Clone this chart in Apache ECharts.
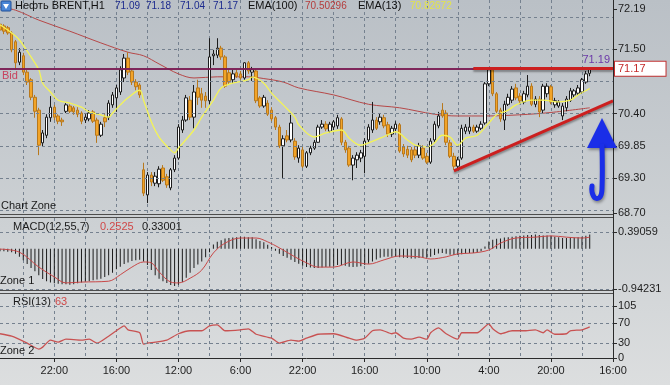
<!DOCTYPE html>
<html><head><meta charset="utf-8">
<script src="https://cdn.jsdelivr.net/npm/echarts@6/dist/echarts.min.js"></script>
<style>html,body{margin:0;padding:0;background:#cfd2d5}#c{width:670px;height:385px}</style>
</head><body><div id="c"></div>
<script>
// ---------- data ----------
const timeTicks = [[14,'22:00'],[30,'16:00'],[46,'12:00'],[62,'6:00'],[78,'22:00'],[94,'16:00'],[110,'10:00'],[126,'4:00'],[142,'20:00'],[158,'16:00']];
const slotCount = 159;

const openP = [71.93,71.90,71.87,71.78,71.63,71.28,71.39,71.11,70.98,70.68,
70.46,69.90,70.03,70.33,70.51,70.36,70.29,70.44,70.53,70.50,
70.46,70.41,70.29,70.31,70.43,70.29,70.03,70.33,70.34,70.55,
70.67,70.77,71.01,71.35,71.13,70.94,70.89,69.44,69.01,69.35,
69.21,69.20,69.47,69.32,69.13,69.44,69.64,70.12,70.29,70.63,
70.34,70.84,70.74,70.70,70.62,71.39,71.40,71.52,71.37,71.10,
70.98,71.10,71.08,71.01,71.27,71.11,71.13,70.67,70.53,70.58,
70.46,70.33,70.17,69.85,70.02,69.95,69.93,69.64,69.78,69.50,
69.73,69.81,69.91,70.17,70.22,70.10,70.17,70.19,70.31,69.91,
69.81,69.52,69.61,69.64,69.67,69.95,70.12,70.29,70.26,70.33,
70.21,70.05,70.14,70.21,69.83,69.79,69.78,69.78,69.69,69.81,
69.67,69.57,69.95,70.19,70.46,70.41,69.90,69.67,69.50,69.64,
70.10,70.10,70.17,70.10,70.15,70.24,70.91,71.15,70.74,70.46,
70.29,70.56,70.63,70.84,70.70,70.60,70.72,70.87,70.56,70.65,
70.46,70.74,70.86,70.55,70.53,70.36,70.50,70.63,70.72,70.75,
70.77,70.94,71.09];
const closeP = [71.83,71.81,71.78,71.49,71.27,71.45,71.11,70.94,70.68,70.44,
69.86,70.07,70.34,70.51,70.34,70.27,70.26,70.55,70.44,70.43,
70.39,70.27,70.34,70.41,70.27,70.03,70.22,70.26,70.58,70.72,
70.84,71.15,71.35,71.11,70.94,70.86,70.72,69.04,69.35,69.23,
69.33,69.45,69.26,69.18,69.44,69.64,70.17,70.29,70.67,70.34,
70.77,70.68,70.63,70.62,71.37,71.42,71.52,71.37,70.87,70.94,
71.08,71.04,71.01,71.27,71.13,71.15,70.62,70.53,70.68,70.39,
70.31,70.17,69.85,69.97,69.95,70.24,69.66,69.81,69.50,69.73,
69.81,69.91,70.17,70.22,70.14,70.22,70.26,70.33,69.91,69.78,
69.52,69.64,69.69,69.73,69.93,70.17,70.29,70.15,70.34,70.19,
70.05,70.15,70.22,69.76,69.71,69.69,69.61,69.69,69.85,69.64,
69.57,69.93,70.22,70.36,70.36,69.91,69.67,69.50,69.61,70.15,
70.17,70.17,70.10,70.17,70.22,70.91,71.15,70.74,70.44,70.31,
70.56,70.68,70.82,70.67,70.62,70.74,70.87,70.56,70.65,70.43,
70.87,70.87,70.60,70.62,70.60,70.53,70.65,70.79,70.79,70.84,
70.98,71.08,71.17];
const lowP = [71.78,71.76,71.75,71.45,71.15,71.23,71.06,70.89,70.63,70.33,
69.69,69.83,69.98,70.26,70.29,70.22,70.19,70.41,70.41,70.38,
70.34,70.22,70.24,70.27,70.24,69.90,70.00,70.17,70.29,70.50,
70.43,70.72,70.94,71.06,70.89,70.80,70.67,68.99,68.87,69.16,
69.16,69.14,69.23,69.13,69.09,69.40,69.61,70.07,70.26,70.29,
70.15,70.55,70.50,70.50,70.56,71.23,71.35,71.32,70.84,70.89,
70.92,71.01,70.98,70.98,71.08,70.96,70.58,70.50,70.50,70.36,
70.27,70.12,69.81,69.30,69.91,69.91,69.61,69.56,69.47,69.47,
69.69,69.78,69.90,70.14,70.10,70.07,70.12,70.14,69.86,69.73,
69.49,69.26,69.47,69.57,69.38,69.91,70.07,70.12,70.21,70.15,
70.00,70.00,70.10,69.73,69.66,69.64,69.57,69.64,69.64,69.61,
69.54,69.54,69.91,70.15,70.33,69.86,69.64,69.44,69.44,69.61,
70.05,70.05,70.07,70.07,70.12,70.21,70.87,70.70,70.41,70.26,
70.12,70.53,70.58,70.63,70.56,70.56,70.68,70.53,70.51,70.34,
70.41,70.68,70.56,70.50,70.50,70.29,70.44,70.60,70.68,70.72,
70.74,70.91,71.04];
const highP = [71.97,71.93,71.90,71.81,71.66,71.52,71.44,71.15,71.01,70.72,
70.50,70.12,70.39,70.70,70.55,70.39,70.33,70.58,70.56,70.53,
70.51,70.44,70.39,70.46,70.46,70.33,70.26,70.39,70.63,70.77,
70.89,71.21,71.42,71.45,71.16,70.99,70.92,69.56,69.40,69.40,
69.40,69.50,69.52,69.37,69.47,69.69,70.22,70.36,70.72,70.70,
70.89,70.98,70.84,70.77,71.69,71.49,71.69,71.56,71.40,71.15,
71.15,71.15,71.13,71.28,71.30,71.20,71.16,70.70,70.72,70.63,
70.51,70.36,70.21,70.03,70.12,70.38,69.98,69.86,69.83,69.76,
69.85,69.95,70.21,70.29,70.27,70.26,70.29,70.38,70.34,69.95,
69.85,69.69,69.74,69.78,69.98,70.22,70.60,70.34,70.41,70.38,
70.26,70.19,70.27,70.24,69.88,69.85,69.83,69.85,69.90,69.86,
69.73,69.98,70.27,70.43,70.58,70.46,69.95,69.73,69.66,70.21,
70.22,70.34,70.21,70.21,70.27,70.94,71.18,71.18,70.77,70.50,
70.62,70.74,70.87,70.91,70.75,70.79,71.06,70.92,70.70,70.70,
70.91,70.92,70.89,70.67,70.63,70.58,70.70,70.84,70.82,70.89,
71.01,71.13,71.18];

const ema100 = [[0,72.22],[4,72.17],[10,72.00],[18,71.81],[26,71.61],[33,71.45],[37,71.39],[41,71.25],[46,71.08],[50,71.01],[56,71.03],[64,71.03],[68,71.00],[73,70.94],[77,70.84],[86,70.72],[95,70.56],[103,70.50],[112,70.39],[118,70.36],[125,70.36],[134,70.38],[142,70.42],[152,70.50]];
const ema13 = [[0,71.92],[3,71.78],[5,71.66],[8,71.37],[10,71.15],[11,70.92],[13,70.77],[15,70.63],[18,70.58],[21,70.51],[23,70.43],[26,70.38],[28,70.34],[29,70.41],[31,70.55],[33,70.67],[36,70.80],[37,70.63],[39,70.26],[41,70.00],[44,69.78],[45,69.73],[46,69.81],[50,70.12],[52,70.34],[55,70.63],[57,70.84],[60,70.92],[64,70.98],[65,71.03],[68,70.92],[70,70.75],[73,70.55],[76,70.34],[77,70.21],[81,70.00],[84,70.07],[88,70.12],[90,69.98],[93,69.86],[95,69.90],[98,69.98],[101,70.07],[102,70.09],[105,69.95],[107,69.86],[110,69.83],[112,69.90],[114,70.03],[116,70.00],[118,69.86],[120,69.98],[123,70.03],[126,70.24],[128,70.38],[131,70.46],[133,70.55],[137,70.63],[140,70.63],[144,70.60],[147,70.63],[149,70.72],[152,70.83]];

const macdHist = [-0.06,-0.06,-0.07,-0.08,-0.12,-0.19,-0.27,-0.36,-0.45,-0.53,
-0.62,-0.71,-0.76,-0.79,-0.81,-0.82,-0.83,-0.83,-0.84,-0.83,
-0.81,-0.79,-0.77,-0.76,-0.74,-0.72,-0.70,-0.66,-0.62,-0.56,
-0.48,-0.42,-0.36,-0.32,-0.29,-0.27,-0.26,-0.30,-0.38,-0.50,
-0.62,-0.70,-0.76,-0.80,-0.85,-0.87,-0.84,-0.78,-0.68,-0.56,
-0.45,-0.37,-0.30,-0.20,-0.08,0.10,0.16,0.20,0.24,0.25,
0.26,0.27,0.28,0.28,0.27,0.27,0.22,0.18,0.15,0.09,
0.04,-0.05,-0.12,-0.17,-0.21,-0.26,-0.31,-0.35,-0.40,-0.43,
-0.44,-0.45,-0.45,-0.44,-0.43,-0.42,-0.41,-0.38,-0.38,-0.40,
-0.42,-0.43,-0.42,-0.41,-0.38,-0.35,-0.30,-0.25,-0.21,-0.19,
-0.19,-0.19,-0.18,-0.20,-0.21,-0.22,-0.23,-0.23,-0.22,-0.22,
-0.21,-0.19,-0.15,-0.11,-0.10,-0.12,-0.14,-0.15,-0.15,-0.13,
-0.11,-0.10,-0.10,-0.09,-0.06,0.05,0.17,0.21,0.23,0.24,
0.26,0.27,0.28,0.29,0.30,0.31,0.32,0.32,0.33,0.32,
0.31,0.31,0.30,0.28,0.27,0.25,0.25,0.26,0.26,0.27,
0.28,0.30,0.33];
const macdSignal = [[0,-0.01],[5,-0.08],[10,-0.43],[14,-0.66],[17,-0.80],[21,-0.78],[28,-0.76],[31,-0.61],[34,-0.43],[37,-0.31],[39,-0.33],[41,-0.54],[44,-0.78],[46,-0.80],[49,-0.69],[52,-0.50],[55,-0.10],[58,0.13],[62,0.25],[66,0.25],[69,0.16],[72,0.02],[76,-0.19],[79,-0.33],[82,-0.43],[86,-0.43],[91,-0.31],[95,-0.36],[99,-0.26],[103,-0.17],[108,-0.19],[111,-0.24],[115,-0.19],[118,-0.12],[122,-0.10],[126,-0.03],[129,0.13],[133,0.25],[138,0.27],[142,0.30],[146,0.27],[150,0.25],[152,0.27]];
const rsi = [[0,49],[3,44],[7,30],[10,18],[11,22],[13,36],[15,32],[17,38],[21,36],[23,38],[25,30],[28,44],[30,55],[32,65],[33,57],[36,51],[37,28],[38,30],[40,32],[43,36],[46,49],[49,55],[52,55],[54,65],[56,67],[58,55],[62,57],[64,59],[66,48],[70,40],[72,30],[75,36],[77,34],[79,40],[82,48],[86,49],[90,40],[92,36],[94,40],[96,55],[98,57],[101,49],[102,51],[104,40],[106,38],[108,42],[110,38],[111,51],[113,61],[115,49],[118,38],[119,51],[123,51],[126,69],[127,59],[129,49],[132,55],[135,55],[138,57],[140,51],[141,57],[143,48],[146,49],[147,55],[150,57],[152,63]];

const priceTicks = [72.19, 71.50, 70.40, 69.85, 69.30, 68.70];
const priceGrid = [72.05, 71.50, 70.95, 70.40, 69.85, 69.30, 68.75];
const macdTicks = [0.39059, -0.94231];
const rsiTicks = [0, 30, 70, 105];
const rsiGrid = [105, 70, 30];
const bidPrice = 71.17;
const resistance = 71.18;
const supportLine = [[117, 69.42], [158, 70.62]];
const resistStart = 122;

// ---------- build ----------
const cats = Array.from({length: slotCount}, (_, i) => String(i));
const labelMap = {}; timeTicks.forEach(([i, t]) => labelMap[i] = t);
const isLabel = (i) => labelMap[i] !== undefined;
const FONT = 'Liberation Sans, Arial, sans-serif';
const gridColor = '#75818f';
const gridLineStyle = {color: gridColor, type: [3, 3], width: 1};
const gridMarks = (vals) => ({silent: true, symbol: ['none', 'none'], animation: false, label: {show: false},
  lineStyle: gridLineStyle, data: vals.map((v) => ({yAxis: v}))});

const chart = echarts.init(document.getElementById('c'), null, {width: 670, height: 385});

function xAx(g) {
  const show = g === 2;
  return {
    type: 'category', gridIndex: g, data: cats, boundaryGap: false,
    axisLine: {show: show, onZero: false, lineStyle: {color: '#2a2a2a'}},
    axisTick: {show: show, interval: (i) => isLabel(i), length: 4, lineStyle: {color: '#2a2a2a'}},
    axisLabel: {show: show, interval: (i) => isLabel(i), formatter: (v, i) => labelMap[i] || '', color: '#1e1e1e', fontSize: 11, margin: 7, fontFamily: FONT},
    splitLine: {show: true, interval: (i) => i % 8 === 6, lineStyle: gridLineStyle}
  };
}
function yAx(g, min, max, ticks, fmt) {
  return {gridIndex: g, position: 'right', min: min, max: max,
    axisLine: {show: true, lineStyle: {color: '#2a2a2a'}},
    axisTick: {show: true, length: 4, customValues: ticks, lineStyle: {color: '#2a2a2a'}},
    axisLabel: {customValues: ticks, formatter: fmt, color: '#1e1e1e', fontSize: 11, margin: 5},
    splitLine: {show: false}};
}

const option = {
  animation: false,
  backgroundColor: {type: 'linear', x: 0, y: 0, x2: 0, y2: 1, colorStops: [{offset: 0, color: '#bac0c6'}, {offset: 0.6, color: '#cdd1d4'}, {offset: 1, color: '#dcdedf'}]},
  textStyle: {fontFamily: FONT},
  grid: [
    {left: 0, top: 0, width: 613, height: 215},
    {left: 0, top: 218, width: 613, height: 72},
    {left: 0, top: 293, width: 613, height: 65}
  ],
  xAxis: [xAx(0), xAx(1), xAx(2)],
  yAxis: [
    yAx(0, 68.666, 72.344, priceTicks, (v) => v.toFixed(2)),
    yAx(1, -0.9655, 0.7179, macdTicks, (v) => v.toFixed(5)),
    yAx(2, 0, 131.3, rsiTicks, (v) => String(v))
  ],
  series: [
    {type: 'line', xAxisIndex: 0, yAxisIndex: 0, data: ema100, showSymbol: false, smooth: 0.35, lineStyle: {color: '#b64848', width: 1}, z: 1,
      markLine: gridMarks(priceGrid)},
    {type: 'candlestick', xAxisIndex: 0, yAxisIndex: 0, barWidth: 3, z: 2,
      data: openP.map((o, i) => [o, closeP[i], lowP[i], highP[i]]),
      itemStyle: {color: '#ffffff', color0: '#f2a428', borderColor: '#1c1c1c', borderColor0: '#b8781c', borderWidth: 1},
      markLine: {silent: true, symbol: ['none', 'none'], animation: false,
        data: [
          {yAxis: bidPrice, lineStyle: {color: '#7b1d55', width: 1.5, type: 'solid'},
            label: {show: true, position: 'insideStartBottom', formatter: 'Bid', color: '#c8435e', fontSize: 11, distance: 2}},
          {yAxis: bidPrice, lineStyle: {color: '#7b1d55', width: 1.5, type: 'solid'},
            label: {show: true, position: 'end', formatter: bidPrice.toFixed(2), color: '#c42a2a', fontSize: 11, backgroundColor: '#ffffff', borderColor: '#c03030', borderWidth: 1, padding: [2, 20, 1, 3], distance: 2}},
          [{coord: [resistStart, resistance], lineStyle: {color: '#cc1f1f', width: 3, type: 'solid', shadowColor: 'rgba(0,0,0,0.35)', shadowBlur: 2, shadowOffsetY: 2},
             label: {show: true, position: 'insideEndTop', formatter: '71.19', color: '#6b38a8', fontSize: 11, distance: 3}},
           {coord: [158, resistance]}],
          [{coord: supportLine[0], lineStyle: {color: '#cc1f1f', width: 3, type: 'solid', shadowColor: 'rgba(0,0,0,0.35)', shadowBlur: 2, shadowOffsetY: 2}, label: {show: false}},
           {coord: supportLine[1]}]
        ]}},
    {type: 'line', xAxisIndex: 0, yAxisIndex: 0, data: ema13, showSymbol: false, smooth: 0.35, lineStyle: {color: '#f4f456', width: 1.3}, z: 3},
    {type: 'bar', xAxisIndex: 1, yAxisIndex: 1, data: macdHist, barWidth: 1, itemStyle: {color: '#1c1c1c'}},
    {type: 'line', xAxisIndex: 1, yAxisIndex: 1, data: macdSignal, showSymbol: false, smooth: 0.35, lineStyle: {color: '#c84848', width: 1},
      markLine: gridMarks(macdTicks)},
    {type: 'line', xAxisIndex: 2, yAxisIndex: 2, data: rsi, showSymbol: false, smooth: 0.2, lineStyle: {color: '#c85252', width: 1.3},
      markLine: gridMarks(rsiGrid)}
  ],
  graphic: []
};

const T = (text, x, y, fill, size, extra) => ({type: 'text', x: x, y: y, silent: true, z: 50,
  style: Object.assign({text: text, fill: fill, fontSize: size || 11, fontFamily: FONT, verticalAlign: 'middle', align: 'left'}, extra || {})});
const L = (x1, y1, x2, y2, c, w) => ({type: 'line', silent: true, z: 40, shape: {x1: x1, y1: y1, x2: x2, y2: y2}, style: {stroke: c, lineWidth: w || 1}});

option.graphic = [
  L(0, 214.5, 613, 214.5, '#4d4d4d'), L(0, 217.5, 613, 217.5, '#4d4d4d'),
  L(0, 290.5, 613, 290.5, '#4d4d4d'), L(0, 293.5, 613, 293.5, '#4d4d4d'),
  L(613.5, 0, 613.5, 358, '#2a2a2a'),
  {type: 'rect', silent: true, z: 50, shape: {x: 1, y: 1, width: 10, height: 10, r: 1}, style: {fill: '#4a86d6', stroke: '#1f4f98', lineWidth: 1}},
  {type: 'polygon', silent: true, z: 51, shape: {points: [[3, 4], [9, 4], [6, 9]]}, style: {fill: '#ffffff'}},
  T('Нефть BRENT,H1', 15, 6, '#111111', 11),
  T('71.09', 115, 6, '#1c2a8e', 10), T('71.18', 146, 6, '#1c2a8e', 10),
  T('71.04', 180, 6, '#1c2a8e', 10), T('71.17', 213, 6, '#1c2a8e', 10),
  T('EMA(100)', 248, 6, '#111111', 11), T('70.50296', 305, 6, '#b53c3c', 10),
  T('EMA(13)', 358, 6, '#111111', 11), T('70.82672', 410, 6, '#e4e44a', 10),
  T('Chart Zone', 1, 206, '#1a1a1a', 11),
  T('MACD(12,55,7)', 13, 227, '#1a1a1a', 11), T('0.2525', 100, 227, '#d04848', 11), T('0.33001', 142, 227, '#1a1a1a', 11),
  T('Zone 1', 0, 281, '#1a1a1a', 11),
  T('RSI(13)', 13, 302, '#1a1a1a', 11), T('63', 55, 302, '#d04848', 11),
  T('Zone 2', 0, 351, '#1a1a1a', 11),
  {type: 'polygon', silent: true, z: 60, shape: {points: [[602, 118], [587, 148], [617, 148]]},
    style: {fill: '#1a2ee8', shadowColor: 'rgba(0,0,0,0.35)', shadowBlur: 3, shadowOffsetX: 1, shadowOffsetY: 2}},
  {type: 'polyline', silent: true, z: 60, shape: {points: [[602, 146], [602, 189], [600, 197], [595, 198], [592, 192], [592, 186]], smooth: 0.4},
    style: {stroke: '#1a2ee8', lineWidth: 5, lineCap: 'round', fill: null, shadowColor: 'rgba(0,0,0,0.35)', shadowBlur: 3, shadowOffsetX: 1, shadowOffsetY: 2}}
];

chart.setOption(option);
</script></body></html>
